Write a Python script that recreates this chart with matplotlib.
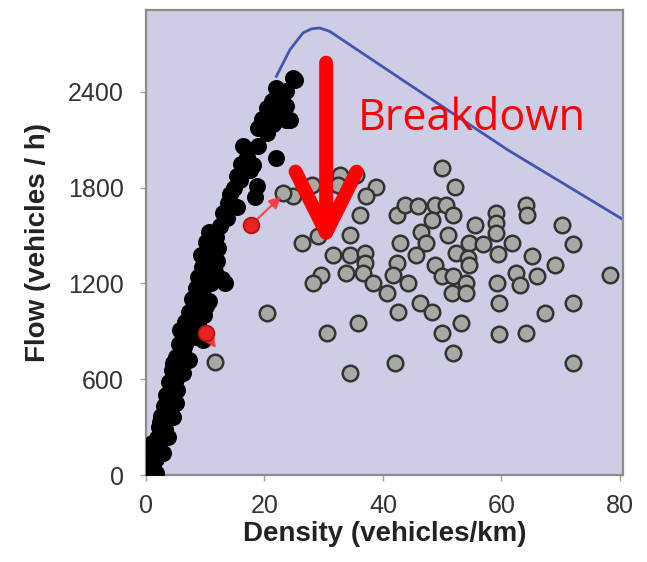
import matplotlib
matplotlib.use('Agg')
import matplotlib.pyplot as plt

# flow-density observations before breakdown (black)
free_density = [0.4, 1.2, 0.9, 1.7, 1.6, 1.4, 2.2, 2.8, 1.8, 2.6, 3.7, 2.2, 3.2, 2.6,
                3.6, 4.5, 3.0, 4.2, 5.1, 3.4, 4.6, 5.2, 3.9, 5.0, 6.2, 4.4, 5.6, 4.6,
                5.0, 6.2, 7.3, 5.6, 6.8, 6.0, 7.4, 8.3, 9.6, 5.7, 7.3, 6.6, 8.0, 7.2,
                8.6, 10.2, 7.8, 9.2, 10.6, 8.4, 9.8, 13.3, 8.8, 10.4, 12.9, 9.4, 11.0,
                12.0, 9.3, 10.6, 12.2, 10.2, 11.8, 10.6, 12.5, 13.6, 13.0, 14.2, 15.3,
                15.3, 15.8, 18.4, 18.7, 17.5, 18.1, 16.4, 18.9, 22.0, 18.9, 20.4,
                20.4, 22.0, 23.7, 24.3, 23.2, 23.7, 22.0, 23.2, 23.7, 24.8, 25.1,
                1.0, 2.0, 2.4, 3.0, 3.8, 4.0, 4.8, 5.4, 5.8, 6.4, 7.0, 7.8, 8.6,
                9.0, 9.6, 10.0, 11.4, 11.0, 11.6, 9.8, 8.8, 8.2, 13.9, 14.8, 16.0,
                17.0, 19.6, 21.2, 21.5]
free_flow = [30, 60, 110, 15, 100, 160, 140, 136, 230, 250, 240, 300, 290, 370,
             360, 365, 430, 440, 449, 500, 520, 533, 580, 600, 637, 660, 680, 700,
             740, 760, 721, 820, 830, 890, 900, 867, 846, 909, 929, 960, 950, 1020,
             1030, 1060, 1100, 1120, 1090, 1170, 1180, 1200, 1240, 1250, 1225, 1300,
             1310, 1340, 1380, 1390, 1420, 1460, 1490, 1520, 1556, 1610, 1640, 1760,
             1680, 1870, 1850, 1740, 1810, 1910, 1940, 2057, 2060, 1984, 2175, 2140,
             2300, 2267, 2224, 2224, 2287, 2308, 2423, 2390, 2402, 2485, 2475,
             200, 190, 330, 330, 410, 480, 560, 640, 720, 800, 860, 990, 1130,
             1070, 1230, 1340, 1400, 1200, 1270, 1000, 950, 1070, 1700, 1800, 1950,
             1990, 2230, 2340, 2200]

# congested observations after breakdown (grey)
cong_density = [49.9, 52.2, 32.7, 35.5, 38.9, 37.2, 28.1, 24.8, 23.2, 32.4, 36.1,
                42.3, 43.7, 45.9, 48.7, 50.7, 51.8, 48.2, 55.5, 59.1, 59.1, 59.1,
                34.4, 29.1, 26.3, 42.8, 46.5, 47.3, 51.0, 54.6, 56.9, 52.4, 31.6,
                34.4, 36.9, 36.9, 45.6, 42.3, 48.7, 54.4, 59.4, 61.7, 54.6, 29.6,
                28.2, 33.8, 36.6, 38.3, 40.6, 41.7, 44.2, 49.9, 51.8, 51.6, 54.1,
                54.1, 59.2, 62.5, 63.1, 65.2, 66.0, 69.0, 64.1, 64.3, 70.3, 72.0,
                78.4, 46.2, 48.2, 42.5, 20.4, 35.8, 30.5, 49.9, 53.1, 51.8, 42.0,
                34.4, 59.6, 59.6, 64.1, 67.3, 72.1, 72.1, 11.6]
cong_flow = [1920, 1805, 1880, 1880, 1806, 1744, 1817, 1744, 1765, 1817, 1629,
             1629, 1692, 1686, 1692, 1692, 1629, 1598, 1567, 1640, 1577, 1515,
             1504, 1498, 1452, 1452, 1523, 1452, 1504, 1452, 1447, 1389, 1379,
             1379, 1389, 1327, 1379, 1327, 1316, 1360, 1385, 1452, 1316, 1253,
             1201, 1264, 1264, 1201, 1139, 1253, 1201, 1243, 1243, 1139, 1201,
             1139, 1205, 1264, 1191, 1372, 1247, 1316, 1692, 1629, 1567, 1446,
             1253, 1076, 1023, 1023, 1017, 954, 888, 892, 954, 766, 704,
             638, 1076, 884, 892, 1017, 1076, 704, 710]

# last points before breakdown (red) and where they jump to
red_density = [17.8, 10.1]
red_flow = [1567, 888]
jump_density = [22.8, 11.8]
jump_flow = [1745, 795]

# fundamental diagram curve
curve_density = [22.0, 24.3, 26.5, 27.9, 29.3, 31.0, 45.0, 61.0, 80.5]
curve_flow = [2496, 2663, 2768, 2793, 2799, 2778, 2431, 2037, 1600]

# big breakdown arrow
drop_density = 30.4
drop_from, drop_to = 2582, 1420

fig = plt.figure(figsize=(6.47, 5.62), dpi=100)
ax = fig.add_axes([0.2257, 0.1548, 0.737, 0.827])
ax.set_facecolor('#cdcde6')

ax.plot(curve_density, curve_flow, color='#4455b0', lw=2, zorder=1)

ax.scatter(cong_density, cong_flow, s=125, facecolor='#a8a8a4',
           edgecolor='#333333', linewidth=1.8, zorder=2)
ax.scatter(free_density, free_flow, s=150, color='black', linewidth=0, zorder=3)

for x0, y0, x1, y1 in zip(red_density, red_flow, jump_density, jump_flow):
    ax.annotate('', xy=(x1, y1), xytext=(x0, y0),
                arrowprops=dict(arrowstyle='-|>,head_length=0.5,head_width=0.25',
                                color='#ff3535', lw=1.6, alpha=0.85,
                                shrinkA=5, shrinkB=0, mutation_scale=14),
                zorder=4)
ax.scatter(red_density, red_flow, s=130, facecolor='#e82222',
           edgecolor='#b01010', linewidth=1.2, zorder=5)

ax.annotate('', xy=(drop_density, drop_to), xytext=(drop_density, drop_from),
            arrowprops=dict(arrowstyle='->,head_length=4.4,head_width=2.2',
                            color='#ff0000', lw=10, shrinkA=0, shrinkB=0,
                            capstyle='round', joinstyle='round',
                            mutation_scale=10),
            zorder=6)
ax.text(35.8, 2162, 'Breakdown', color='#ff0000', fontsize=31,
        family='Open Sans', ha='left', va='baseline', zorder=7)

ax.set_xlim(0, 80.5)
ax.set_ylim(0, 2910)
ax.set_xticks([0, 20, 40, 60, 80])
ax.set_yticks([0, 600, 1200, 1800, 2400])

for sp in ax.spines.values():
    sp.set_color('#8c8c8c')
    sp.set_linewidth(1.6)
ax.tick_params(direction='out', length=4, width=1, color='#a0a0a0',
               labelcolor='#333333', labelsize=18)
for lbl in ax.get_xticklabels() + ax.get_yticklabels():
    lbl.set_family('Liberation Sans')
ax.tick_params(axis='x', pad=10)
ax.tick_params(axis='y', pad=12)

ax.set_xlabel('Density (vehicles/km)', fontsize=20, fontweight='bold',
              family='Liberation Sans', color='#222222', labelpad=2)
ax.set_ylabel('Flow (vehicles / h)', fontsize=20, fontweight='bold',
              family='Liberation Sans', color='#222222', labelpad=12)

fig.savefig('out.png', dpi=100)
